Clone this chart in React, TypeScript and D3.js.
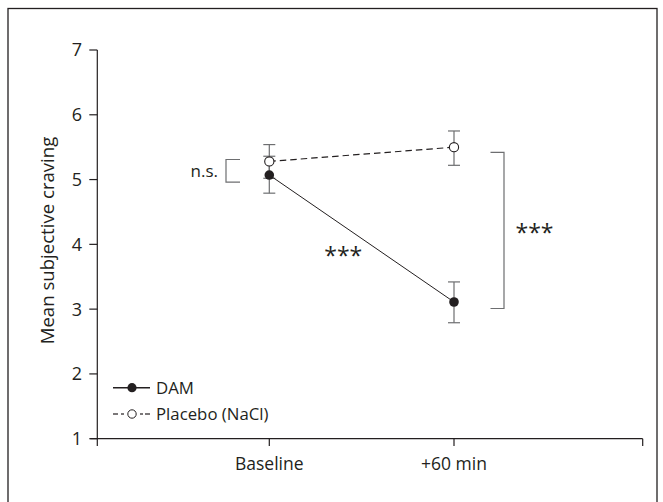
import React from "react";
import * as d3 from "d3";

const categories = ["Baseline", "+60 min"];
const damMean = [5.07, 3.11];
const damUpper = [5.36, 3.42];
const damLower = [4.79, 2.79];
const placeboMean = [5.28, 5.5];
const placeboUpper = [5.54, 5.75];
const placeboLower = [5.02, 5.22];
const yTicks = [1, 2, 3, 4, 5, 6, 7];
const seriesNames = ["DAM", "Placebo (NaCl)"];

const FONT = "'Open Sans', Roboto, sans-serif";
const INK = "#231f20";
const GRAY = "#6d6e70";

export default function App() {
  const W = 663, H = 502;
  const y = d3.scaleLinear().domain([1, 7]).range([438.7, 50]);
  const x = d3.scalePoint<string>().domain(categories).range([269.3, 454]);
  const axisX0 = 97.3, axisX1 = 642.7;
  const line = d3.line<number>().x((_, i) => x(categories[i])!).y((d) => y(d));
  const cap = 6;

  const errBars = (up: number[], lo: number[]) =>
    categories.map((c, i) => {
      const cx = x(c)!;
      return (
        <g key={c} stroke={GRAY} strokeWidth={1.2}>
          <line x1={cx} x2={cx} y1={y(up[i])} y2={y(lo[i])} />
          <line x1={cx - cap} x2={cx + cap} y1={y(up[i])} y2={y(up[i])} />
          <line x1={cx - cap} x2={cx + cap} y1={y(lo[i])} y2={y(lo[i])} />
        </g>
      );
    });

  // significance brackets
  const nsTop = y(5.31), nsBot = y(4.96);
  const bTop = y(5.42), bBot = y(3.01);

  return (
    <svg width={W} height={H} style={{ position: "absolute", left: 0, top: 0 }} fontFamily={FONT}>
      <rect x={8} y={8.5} width={649} height={520} fill="white" stroke={INK} strokeWidth={1.3} />
      {/* y axis */}
      <line x1={axisX0} x2={axisX0} y1={y(7)} y2={446} stroke={INK} strokeWidth={1.2} />
      {yTicks.map((t) => (
        <g key={t}>
          <line x1={axisX0 - 8} x2={axisX0} y1={y(t)} y2={y(t)} stroke={INK} strokeWidth={1.2} />
          <text x={82} y={y(t)} dy="0.36em" textAnchor="end" fontSize={18} fill={INK}>
            {t}
          </text>
        </g>
      ))}
      {/* x axis */}
      <line x1={axisX0 - 7} x2={axisX1} y1={y(1)} y2={y(1)} stroke={INK} strokeWidth={1.2} />
      <line x1={axisX1} x2={axisX1} y1={y(1)} y2={446} stroke={INK} strokeWidth={1.2} />
      {categories.map((c) => (
        <g key={c}>
          <line x1={x(c)} x2={x(c)} y1={y(1)} y2={446} stroke={INK} strokeWidth={1.2} />
          <text x={x(c)} y={470} textAnchor="middle" fontSize={17.5} fill={INK}>
            {c}
          </text>
        </g>
      ))}
      <text
        transform={`translate(53.5,240.5) rotate(-90)`}
        textAnchor="middle"
        fontSize={18.6}
        fill={INK}
      >
        Mean subjective craving
      </text>

      {/* error bars */}
      {errBars(placeboUpper, placeboLower)}
      {errBars(damUpper, damLower)}

      {/* lines */}
      <path d={line(placeboMean)!} fill="none" stroke={INK} strokeWidth={1.2} strokeDasharray="6.5,4" />
      <path d={line(damMean)!} fill="none" stroke={INK} strokeWidth={1} />
      {placeboMean.map((v, i) => (
        <circle key={"p" + i} cx={x(categories[i])} cy={y(v)} r={4.6} fill="white" stroke={INK} strokeWidth={1.1} />
      ))}
      {damMean.map((v, i) => (
        <circle key={"d" + i} cx={x(categories[i])} cy={y(v)} r={4.8} fill={INK} />
      ))}

      {/* n.s. bracket */}
      <path d={`M240,${nsTop}H226V${nsBot}H240`} fill="none" stroke={GRAY} strokeWidth={1.2} />
      <text x={218} y={(nsTop + nsBot) / 2} dy="0.35em" textAnchor="end" fontSize={17} fill={INK}>
        n.s.
      </text>
      {/* right bracket */}
      <path d={`M490.5,${bTop}H504V${bBot}H490.5`} fill="none" stroke={GRAY} strokeWidth={1.2} />
      <text x={534.5} y={240.7} textAnchor="middle" fontSize={23} fill={INK}>
        ***
      </text>
      <text x={343.3} y={264.4} textAnchor="middle" fontSize={23} fill={INK}>
        ***
      </text>

      {/* legend */}
      <g>
        <line x1={113} x2={150} y1={387.7} y2={387.7} stroke={INK} strokeWidth={1.5} />
        <circle cx={132} cy={387.7} r={4.6} fill={INK} />
        <text x={156} y={387.7} dy="0.36em" fontSize={16.8} fill={INK}>
          {seriesNames[0]}
        </text>
        <line x1={113} x2={118} y1={414} y2={414} stroke={INK} strokeWidth={1.2} />
        <line x1={145} x2={150} y1={414} y2={414} stroke={INK} strokeWidth={1.2} />
        <line x1={121} x2={124} y1={414} y2={414} stroke={INK} strokeWidth={1.2} />
        <line x1={140} x2={143} y1={414} y2={414} stroke={INK} strokeWidth={1.2} />
        <circle cx={132} cy={414} r={4.2} fill="white" stroke={INK} strokeWidth={1} />
        <text x={156} y={414} dy="0.36em" fontSize={16.8} fill={INK}>
          {seriesNames[1]}
        </text>
      </g>
    </svg>
  );
}
